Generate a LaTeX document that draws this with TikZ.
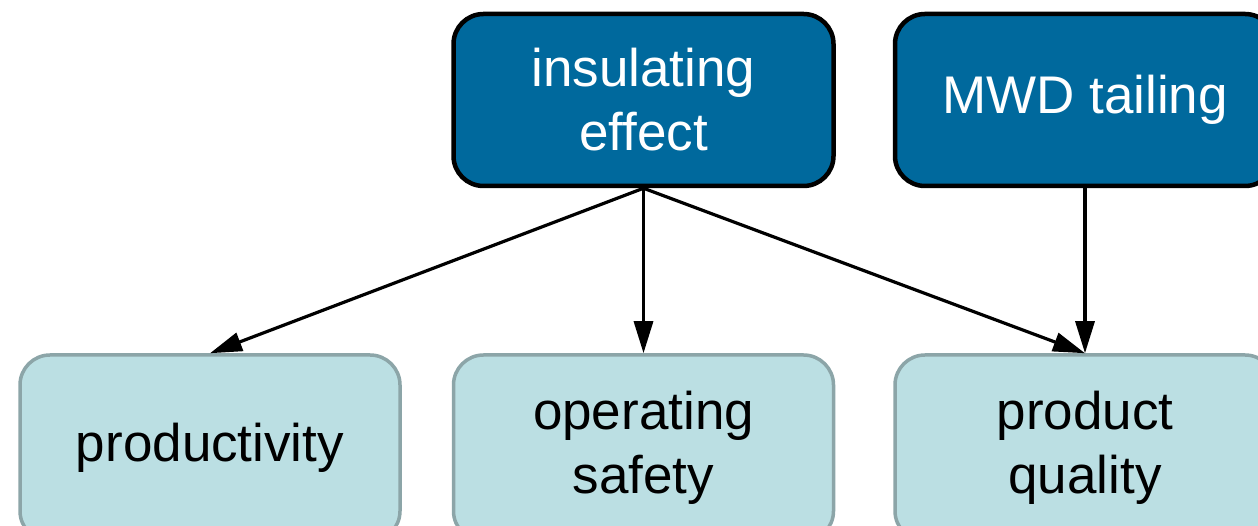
\documentclass[tikz,border=0pt]{standalone}
\usepackage{fontspec}
\setmainfont{Liberation Sans}
\usetikzlibrary{arrows.meta,positioning}

\definecolor{causeblue}{HTML}{00699D}
\definecolor{effectfill}{HTML}{BBDFE3}
\definecolor{effectline}{HTML}{8CA5A8}

\begin{document}
\begin{tikzpicture}[x=1pt,y=1pt,->,>={Triangle[length=32pt,width=19pt]},line width=3.2pt,
  node distance=348pt and 441.5pt,on grid,
  cause node/.style={rectangle,rounded corners=30pt,draw=black,line width=4.5pt,fill=causeblue,
    text=white,minimum width=380pt,minimum height=172pt,align=center,font=\fontsize{53}{64}\selectfont},
  effect node/.style={rectangle,rounded corners=30pt,draw=effectline,line width=3.5pt,fill=effectfill,
    text=black,minimum width=380pt,minimum height=186pt,align=center,font=\fontsize{53}{64}\selectfont}]

  \useasboundingbox (0,0) rectangle (1258,526);

  \node[cause node] (ins) at (643.5,426) {insulating\\effect};
  \node[cause node] (mwd) [right=of ins] {MWD tailing};
  \node[effect node] (safe) [below=of ins] {operating\\safety};
  \node[effect node] (prod) [left=433.5pt of safe] {productivity};
  \node[effect node] (qual) [right=of safe] {product\\quality};

  \path
    (ins.south) edge (prod.north)
                edge (safe.north)
                edge (qual.north)
    (mwd.south) edge (qual.north);
\end{tikzpicture}
\end{document}
